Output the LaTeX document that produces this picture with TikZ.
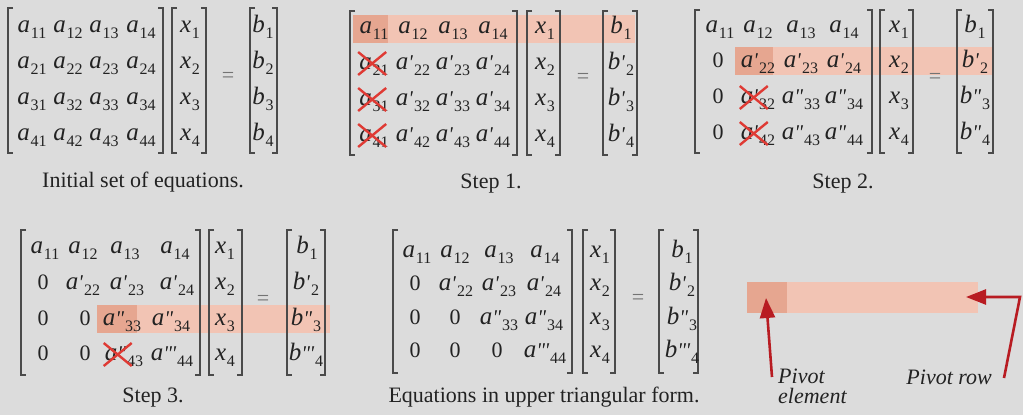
\documentclass[tikz,border=0pt]{standalone}
\usepackage{fontspec}
\setmainfont{Liberation Serif}
\usetikzlibrary{arrows.meta}
\definecolor{bgc}{HTML}{DCDCDC}
\definecolor{hlc}{HTML}{F2C4B4}
\definecolor{pvc}{HTML}{E6A690}
\definecolor{xrc}{HTML}{DF3A34}
\definecolor{arc}{HTML}{B81C22}
\definecolor{brc}{HTML}{4A4A4A}
\definecolor{txc}{HTML}{222222}
\newcommand\oneP{\textquotesingle}
\newcommand\twoP{\textquotedbl}
\newcommand\threeP{\textquotedbl\kern-0.5pt\textquotesingle}
\newcommand\mE[3]{{\fontsize{25}{28}\selectfont\textit{#1}{\fontsize{21}{24}\selectfont\textit{#2}}}\kern0.8pt\raisebox{-6pt}{\fontsize{16}{17}\selectfont #3}}
\newcommand\sqbr[4]{%
  \draw[brk] (#1+5,#3) -- (#1,#3) -- (#1,#4) -- (#1+5,#4);
  \draw[brk] (#2-5,#3) -- (#2,#3) -- (#2,#4) -- (#2-5,#4);}
\newcommand\xcross[1]{%
  \draw[xln] ([shift={(-1,-17)}]#1.base west) -- ([shift={(27,6)}]#1.base west);
  \draw[xln] ([shift={(-1,6)}]#1.base west) -- ([shift={(27,-17)}]#1.base west);}
\tikzset{
  ent/.style={anchor=base, inner sep=0pt, text=txc, font=\fontsize{22}{24}\selectfont},
  eqs/.style={inner sep=0pt, text=black!55, font=\fontsize{22}{24}\selectfont},
  captxt/.style={anchor=base, inner sep=0pt, text=txc, font=\fontsize{22}{24}\selectfont},
  lbl/.style={inner sep=0pt, text=txc, font=\fontsize{22}{24}\selectfont\itshape},
  brk/.style={draw=brc, line width=1.3pt},
  xln/.style={draw=xrc, line width=2.4pt},
  parrow/.style={draw=arc, line width=2.6pt, -{Triangle[length=20pt,width=15pt]}},
}
\begin{document}
\begin{tikzpicture}[x=1pt,y=-1pt]
\fill[bgc] (0,0) rectangle (1023,415);
\useasboundingbox (0,0) rectangle (1023,415);

% ---------- highlights ----------
\fill[hlc] (353,15) rectangle (635,43);
\fill[pvc] (353,15) rectangle (388,43);
\fill[hlc] (735,47) rectangle (993,75);
\fill[pvc] (735,47) rectangle (773,75);
\fill[hlc] (97,305) rectangle (330,333);
\fill[pvc] (97,305) rectangle (137,333);
\fill[hlc] (747,282) rectangle (978,313);
\fill[pvc] (747,282) rectangle (787,313);

% ---------- Panel 1 ----------
\sqbr{8}{163}{8}{153}
\sqbr{172}{206}{8}{153}
\sqbr{250}{277}{8}{153}
\node[ent] (p1a11) at (32,32) {\mE{a}{}{11}};
\node[ent] (p1a12) at (68,32) {\mE{a}{}{12}};
\node[ent] (p1a13) at (104,32) {\mE{a}{}{13}};
\node[ent] (p1a14) at (141,32) {\mE{a}{}{14}};
\node[ent] (p1a21) at (32,68) {\mE{a}{}{21}};
\node[ent] (p1a22) at (68,68) {\mE{a}{}{22}};
\node[ent] (p1a23) at (104,68) {\mE{a}{}{23}};
\node[ent] (p1a24) at (141,68) {\mE{a}{}{24}};
\node[ent] (p1a31) at (32,104) {\mE{a}{}{31}};
\node[ent] (p1a32) at (68,104) {\mE{a}{}{32}};
\node[ent] (p1a33) at (104,104) {\mE{a}{}{33}};
\node[ent] (p1a34) at (141,104) {\mE{a}{}{34}};
\node[ent] (p1a41) at (32,140) {\mE{a}{}{41}};
\node[ent] (p1a42) at (68,140) {\mE{a}{}{42}};
\node[ent] (p1a43) at (104,140) {\mE{a}{}{43}};
\node[ent] (p1a44) at (141,140) {\mE{a}{}{44}};
\node[ent] (p1x1) at (190,32) {\mE{x}{}{1}};
\node[ent] (p1x2) at (190,68) {\mE{x}{}{2}};
\node[ent] (p1x3) at (190,104) {\mE{x}{}{3}};
\node[ent] (p1x4) at (190,140) {\mE{x}{}{4}};
\node[ent] (p1b1) at (263,32) {\mE{b}{}{1}};
\node[ent] (p1b2) at (263,68) {\mE{b}{}{2}};
\node[ent] (p1b3) at (263,104) {\mE{b}{}{3}};
\node[ent] (p1b4) at (263,140) {\mE{b}{}{4}};
\node[eqs] (p1eq) at (228,77) {=};
\node[captxt] (p1cap) at (143,187) {Initial set of equations.};

% ---------- Panel 2 (Step 1) ----------
\sqbr{350}{517}{11}{155}
\sqbr{527}{560}{11}{155}
\sqbr{603}{637}{11}{155}
\node[ent] (p2a11) at (374,33) {\mE{a}{}{11}};
\node[ent] (p2a12) at (413,33) {\mE{a}{}{12}};
\node[ent] (p2a13) at (453,33) {\mE{a}{}{13}};
\node[ent] (p2a14) at (493,33) {\mE{a}{}{14}};
\node[ent] (p2a21) at (374,69) {\mE{a}{}{21}};
\node[ent] (p2a22) at (413,69) {\mE{a}{\oneP}{22}};
\node[ent] (p2a23) at (453,69) {\mE{a}{\oneP}{23}};
\node[ent] (p2a24) at (493,69) {\mE{a}{\oneP}{24}};
\node[ent] (p2a31) at (374,105) {\mE{a}{}{31}};
\node[ent] (p2a32) at (413,105) {\mE{a}{\oneP}{32}};
\node[ent] (p2a33) at (453,105) {\mE{a}{\oneP}{33}};
\node[ent] (p2a34) at (493,105) {\mE{a}{\oneP}{34}};
\node[ent] (p2a41) at (374,141) {\mE{a}{}{41}};
\node[ent] (p2a42) at (413,141) {\mE{a}{\oneP}{42}};
\node[ent] (p2a43) at (453,141) {\mE{a}{\oneP}{43}};
\node[ent] (p2a44) at (493,141) {\mE{a}{\oneP}{44}};
\node[ent] (p2x1) at (545,33) {\mE{x}{}{1}};
\node[ent] (p2x2) at (545,69) {\mE{x}{}{2}};
\node[ent] (p2x3) at (545,105) {\mE{x}{}{3}};
\node[ent] (p2x4) at (545,141) {\mE{x}{}{4}};
\node[ent] (p2b1) at (621,33) {\mE{b}{}{1}};
\node[ent] (p2b2) at (621,69) {\mE{b}{\oneP}{2}};
\node[ent] (p2b3) at (621,105) {\mE{b}{\oneP}{3}};
\node[ent] (p2b4) at (621,141) {\mE{b}{\oneP}{4}};
\node[eqs] (p2eq) at (583,78) {=};
\node[captxt] (p2cap) at (491,188) {Step 1.};
\xcross{p2a21}
\xcross{p2a31}
\xcross{p2a41}

% ---------- Panel 3 (Step 2) ----------
\sqbr{695}{872}{10}{153}
\sqbr{880}{913}{10}{153}
\sqbr{957}{993}{10}{153}
\node[ent] (p3a11) at (720,32) {\mE{a}{}{11}};
\node[ent] (p3a12) at (758,32) {\mE{a}{}{12}};
\node[ent] (p3a13) at (801,32) {\mE{a}{}{13}};
\node[ent] (p3a14) at (844,32) {\mE{a}{}{14}};
\node[ent] (p3a21) at (718,67) {0};
\node[ent] (p3a22) at (758,67) {\mE{a}{\oneP}{22}};
\node[ent] (p3a23) at (801,67) {\mE{a}{\oneP}{23}};
\node[ent] (p3a24) at (844,67) {\mE{a}{\oneP}{24}};
\node[ent] (p3a31) at (718,103) {0};
\node[ent] (p3a32) at (758,103) {\mE{a}{\oneP}{32}};
\node[ent] (p3a33) at (801,103) {\mE{a}{\twoP}{33}};
\node[ent] (p3a34) at (844,103) {\mE{a}{\twoP}{34}};
\node[ent] (p3a41) at (718,139) {0};
\node[ent] (p3a42) at (758,139) {\mE{a}{\oneP}{42}};
\node[ent] (p3a43) at (801,139) {\mE{a}{\twoP}{43}};
\node[ent] (p3a44) at (844,139) {\mE{a}{\twoP}{44}};
\node[ent] (p3x1) at (899,32) {\mE{x}{}{1}};
\node[ent] (p3x2) at (899,67) {\mE{x}{}{2}};
\node[ent] (p3x3) at (899,103) {\mE{x}{}{3}};
\node[ent] (p3x4) at (899,139) {\mE{x}{}{4}};
\node[ent] (p3b1) at (975,32) {\mE{b}{}{1}};
\node[ent] (p3b2) at (975,67) {\mE{b}{\oneP}{2}};
\node[ent] (p3b3) at (975,103) {\mE{b}{\twoP}{3}};
\node[ent] (p3b4) at (975,139) {\mE{b}{\twoP}{4}};
\node[eqs] (p3eq) at (935,78) {=};
\node[captxt] (p3cap) at (843,188) {Step 2.};
\xcross{p3a32}
\xcross{p3a42}

% ---------- Panel 4 (Step 3) ----------
\sqbr{21}{200}{230}{375}
\sqbr{209}{242}{230}{375}
\sqbr{287}{325}{230}{375}
\node[ent] (p4a11) at (45,253) {\mE{a}{}{11}};
\node[ent] (p4a12) at (83,253) {\mE{a}{}{12}};
\node[ent] (p4a13) at (125,253) {\mE{a}{}{13}};
\node[ent] (p4a14) at (175,253) {\mE{a}{}{14}};
\node[ent] (p4a21) at (43,289) {0};
\node[ent] (p4a22) at (83,289) {\mE{a}{\oneP}{22}};
\node[ent] (p4a23) at (127,289) {\mE{a}{\oneP}{23}};
\node[ent] (p4a24) at (177,289) {\mE{a}{\oneP}{24}};
\node[ent] (p4a31) at (43,325) {0};
\node[ent] (p4a32) at (85,325) {0};
\node[ent] (p4a33) at (122,325) {\mE{a}{\twoP}{33}};
\node[ent] (p4a34) at (171,325) {\mE{a}{\twoP}{34}};
\node[ent] (p4a41) at (43,360) {0};
\node[ent] (p4a42) at (85,360) {0};
\node[ent] (p4a43) at (124,360) {\mE{a}{\twoP}{43}};
\node[ent] (p4a44) at (172,360) {\mE{a}{\threeP}{44}};
\node[ent] (p4x1) at (225,253) {\mE{x}{}{1}};
\node[ent] (p4x2) at (225,289) {\mE{x}{}{2}};
\node[ent] (p4x3) at (225,325) {\mE{x}{}{3}};
\node[ent] (p4x4) at (225,360) {\mE{x}{}{4}};
\node[ent] (p4b1) at (307,253) {\mE{b}{}{1}};
\node[ent] (p4b2) at (306,289) {\mE{b}{\oneP}{2}};
\node[ent] (p4b3) at (306,325) {\mE{b}{\twoP}{3}};
\node[ent] (p4b4) at (306,360) {\mE{b}{\threeP}{4}};
\node[eqs] (p4eq) at (263,300) {=};
\node[captxt] (p4cap) at (153,402) {Step 3.};
\xcross{p4a43}

% ---------- Panel 5 (upper triangular) ----------
\sqbr{393}{572}{230}{373}
\sqbr{583}{615}{230}{373}
\sqbr{659}{698}{230}{373}
\node[ent] (p5a11) at (417,257) {\mE{a}{}{11}};
\node[ent] (p5a12) at (455,257) {\mE{a}{}{12}};
\node[ent] (p5a13) at (499,257) {\mE{a}{}{13}};
\node[ent] (p5a14) at (545,257) {\mE{a}{}{14}};
\node[ent] (p5a21) at (415,290) {0};
\node[ent] (p5a22) at (456,290) {\mE{a}{\oneP}{22}};
\node[ent] (p5a23) at (499,290) {\mE{a}{\oneP}{23}};
\node[ent] (p5a24) at (544,290) {\mE{a}{\oneP}{24}};
\node[ent] (p5a31) at (415,324) {0};
\node[ent] (p5a32) at (455,324) {0};
\node[ent] (p5a33) at (499,324) {\mE{a}{\twoP}{33}};
\node[ent] (p5a34) at (544,324) {\mE{a}{\twoP}{34}};
\node[ent] (p5a41) at (415,357) {0};
\node[ent] (p5a42) at (455,357) {0};
\node[ent] (p5a43) at (497,357) {0};
\node[ent] (p5a44) at (545,357) {\mE{a}{\threeP}{44}};
\node[ent] (p5x1) at (600,257) {\mE{x}{}{1}};
\node[ent] (p5x2) at (600,290) {\mE{x}{}{2}};
\node[ent] (p5x3) at (600,324) {\mE{x}{}{3}};
\node[ent] (p5x4) at (600,357) {\mE{x}{}{4}};
\node[ent] (p5b1) at (682,257) {\mE{b}{}{1}};
\node[ent] (p5b2) at (682,290) {\mE{b}{\oneP}{2}};
\node[ent] (p5b3) at (682,324) {\mE{b}{\twoP}{3}};
\node[ent] (p5b4) at (682,357) {\mE{b}{\threeP}{4}};
\node[eqs] (p5eq) at (638,299) {=};
\node[captxt] (p5cap) at (544,402) {Equations in upper triangular form.};

% ---------- Legend ----------
\coordinate (pivtip) at (766,298);
\coordinate (pivtail) at (772,377);
\coordinate (rowtail) at (1004,378);
\coordinate (rowbend) at (1020,297);
\coordinate (rowtip) at (966,297);
\draw[parrow] (pivtail) -- (pivtip);
\draw[parrow] (rowtail) -- (rowbend) -- (rowtip);
\node[lbl, anchor=base west] (pivl1) at (778,383) {Pivot};
\node[lbl, anchor=base west] (pivl2) at (778,403) {element};
\node[lbl, anchor=base east] (rowl) at (992,384) {Pivot row};
\end{tikzpicture}
\end{document}
